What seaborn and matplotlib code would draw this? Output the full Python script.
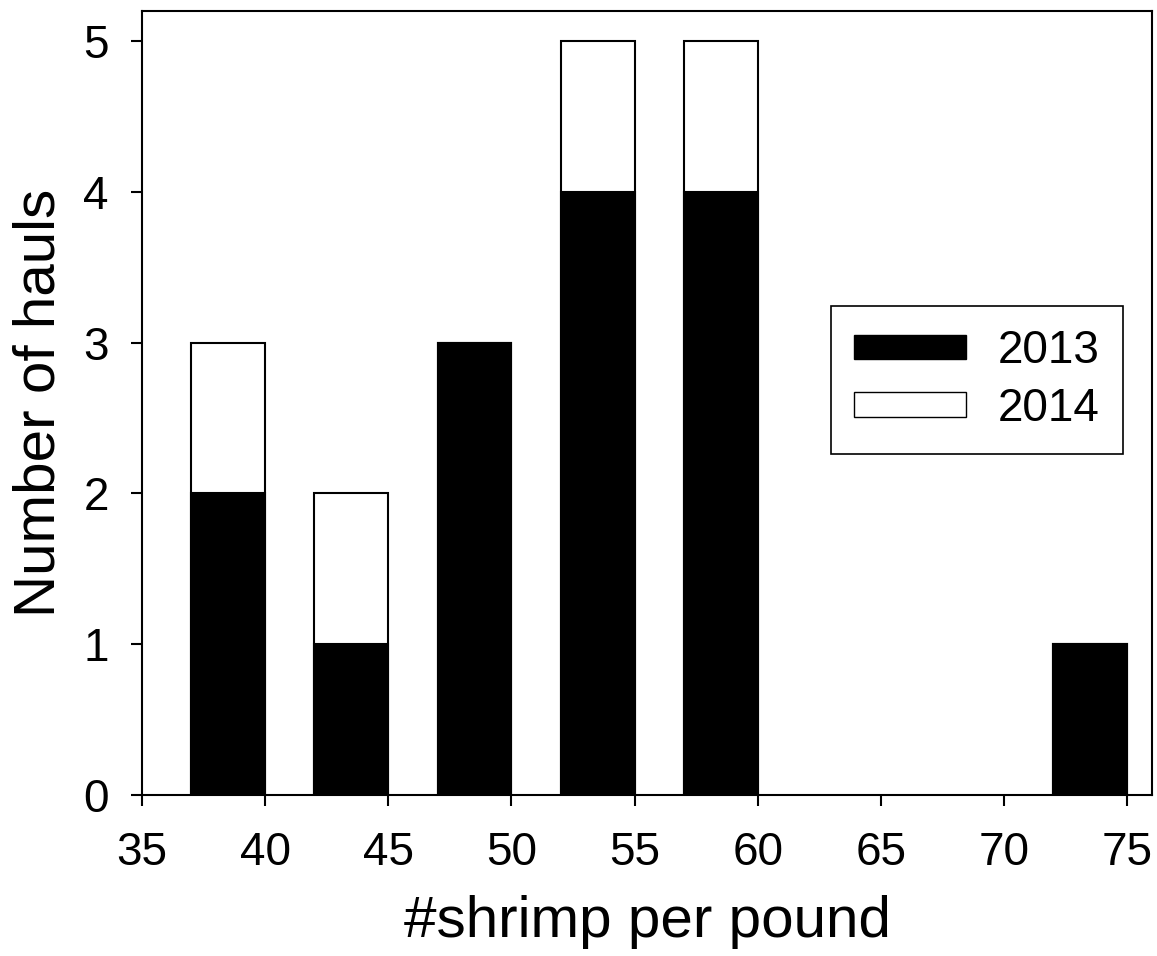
import numpy as np
import pandas as pd
import matplotlib
matplotlib.use("Agg")
import matplotlib.pyplot as plt
from matplotlib.patches import Patch
import seaborn as sns

# ── Data ───────────────────────────────────────────────
bin_centers = [38.5, 43.5, 48.5, 53.5, 58.5, 73.5]
hauls_2013 = [2, 1, 3, 4, 4, 1]
hauls_2014 = [1, 1, 0, 1, 1, 0]

df = pd.DataFrame({"center": bin_centers,
                   "y2013": hauls_2013,
                   "y2014": hauls_2014})
df["total"] = df["y2013"] + df["y2014"]

sns.set_style("ticks")
plt.rcParams["font.family"] = ["Liberation Sans", "DejaVu Sans"]
plt.rcParams["text.color"] = "black"
plt.rcParams["axes.labelcolor"] = "black"
plt.rcParams["xtick.color"] = "black"
plt.rcParams["ytick.color"] = "black"

fig = plt.figure(figsize=(11.57, 9.56), dpi=100)
ax = fig.add_axes([0.1227, 0.1684, 0.8730, 0.8201])

# stacked bars: total in white underneath, 2013 in black on top
sns.barplot(data=df, x="center", y="total", native_scale=True, width=0.6,
            color="white", edgecolor="black", linewidth=1.5,
            saturation=1, ax=ax)
sns.barplot(data=df, x="center", y="y2013", native_scale=True, width=0.6,
            color="black", edgecolor="black", linewidth=1.5,
            saturation=1, ax=ax)

ax.set_xlim(35, 76)
ax.set_ylim(0, 5.2)
ax.set_xticks(range(35, 80, 5))
ax.set_yticks(range(0, 6))

for s in ax.spines.values():
    s.set_visible(True)
    s.set_linewidth(1.5)
    s.set_color("black")

ax.tick_params(axis="both", labelsize=33, length=8, width=1.5,
               direction="out", colors="black")
ax.tick_params(axis="x", pad=18)
ax.tick_params(axis="y", pad=16)
ax.set_xlabel("#shrimp per pound", fontsize=42, labelpad=14)
ax.set_ylabel("Number of hauls", fontsize=42, labelpad=12)

handles = [Patch(facecolor="black", edgecolor="black", label="2013"),
           Patch(facecolor="white", edgecolor="black", label="2014")]
leg = ax.legend(handles=handles, loc="center right",
                bbox_to_anchor=(0.971, 0.529), borderaxespad=0,
                fontsize=33, frameon=True, fancybox=False, framealpha=1,
                handlelength=2.45, handleheight=0.45, handletextpad=0.7,
                labelspacing=0.3, borderpad=0.5)
leg.get_frame().set_edgecolor("black")
leg.get_frame().set_linewidth(1.2)

fig.savefig("out.png", dpi=100)
